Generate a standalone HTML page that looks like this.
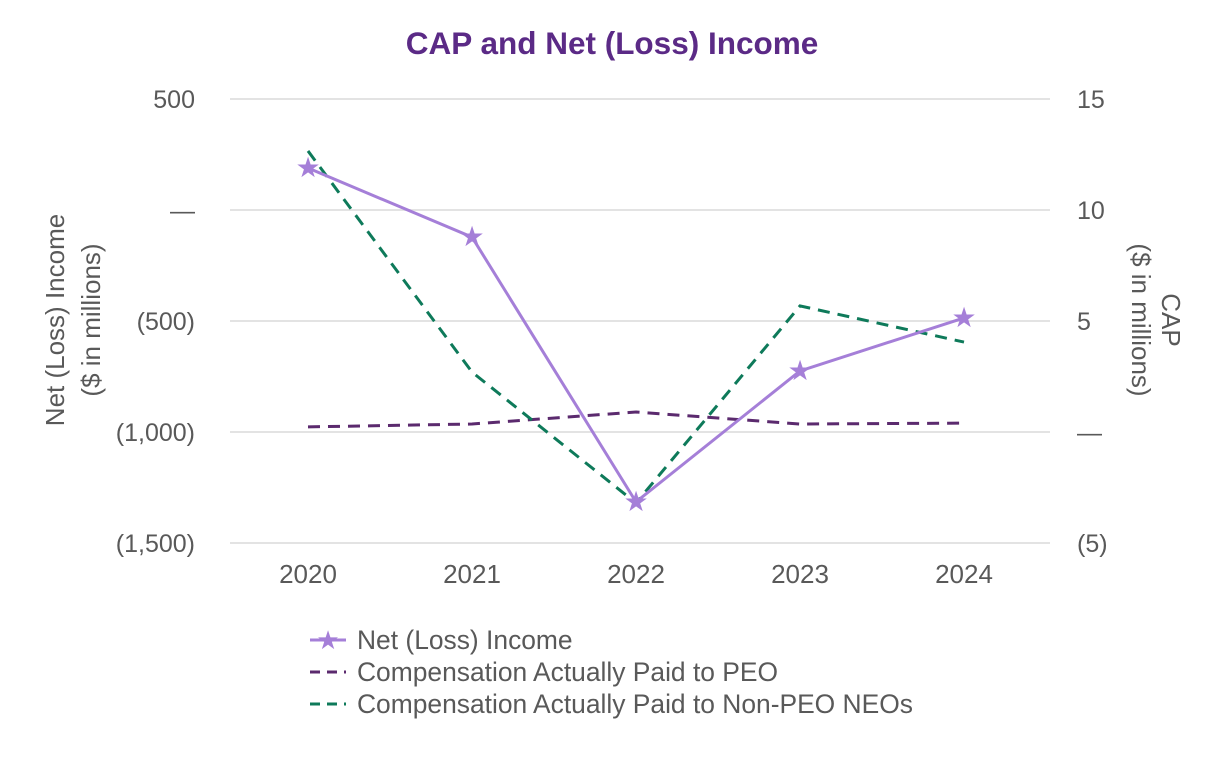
<!DOCTYPE html>
<html><head><meta charset="utf-8"><style>
body{margin:0;background:#fff;}
svg text{font-family:"Liberation Sans",Arial,sans-serif;}
</style></head><body>
<svg id="chart" width="1226" height="760" viewBox="0 0 1226 760">
<text x="612" y="54" text-anchor="middle" font-size="31.5" font-weight="bold" fill="#5b2a86">CAP and Net (Loss) Income</text>
<g id="grid"></g><g id="series"></g>
<text transform="translate(64,320) rotate(-90)" text-anchor="middle" font-size="26" fill="#595959"><tspan x="0" dy="0">Net (Loss) Income</tspan><tspan x="0" dy="36">($ in millions)</tspan></text>
<text transform="translate(1162,320) rotate(90)" text-anchor="middle" font-size="26" fill="#595959"><tspan x="0" dy="0">CAP</tspan><tspan x="0" dy="30">($ in millions)</tspan></text>
<g>
<line x1="310" y1="640" x2="346" y2="640" stroke="#a57fd8" stroke-width="3"/>
<text x="328" y="649" text-anchor="middle" font-size="26" fill="#a57fd8">★</text>
<text x="357" y="649" font-size="26.4" fill="#595959">Net (Loss) Income</text>
<line x1="310" y1="672" x2="346" y2="672" stroke="#5b2a6e" stroke-width="3" stroke-dasharray="10,7"/>
<text x="357" y="681" font-size="26.4" fill="#595959">Compensation Actually Paid to PEO</text>
<line x1="310" y1="704" x2="346" y2="704" stroke="#0e7a5a" stroke-width="3" stroke-dasharray="10,7"/>
<text x="357" y="713" font-size="26.4" fill="#595959">Compensation Actually Paid to Non-PEO NEOs</text>
</g>
</svg>
<script>
const years=["2020","2021","2022","2023","2024"];
const netIncome=[189,-122,-1315,-725,-486];
const capPEO=[0.23,0.36,0.9,0.36,0.4];
const capNEO=[12.66,2.7,-3.2,5.68,4.05];
const leftTicks=[500,0,-500,-1000,-1500];
const leftTickLabels=["500","—","(500)","(1,000)","(1,500)"];
const rightTicks=[15,10,5,0,-5];
const rightTickLabels=["15","10","5","—","(5)"];
const NS="http://www.w3.org/2000/svg";
const xS=i=>308+i*164;
const yL=v=>210-v*111/500;
const yR=v=>432-v*22.2;
function mk(t,a,p){const e=document.createElementNS(NS,t);for(const k in a)e.setAttribute(k,a[k]);p.appendChild(e);return e;}
const grid=document.getElementById('grid'),ser=document.getElementById('series');
leftTicks.forEach((v,i)=>{
 const l=mk('line',{x1:230,x2:1050,y1:yL(v),y2:yL(v),stroke:'#e3e3e3','stroke-width':2},grid);
 
 
 const t=mk('text',{x:195,y:yL(v)+9,'text-anchor':'end','font-size':25,fill:'#595959'},grid);t.textContent=leftTickLabels[i];
 
 
});
rightTicks.forEach((v,i)=>{
 const t=mk('text',{x:1077,y:yR(v)+9,'font-size':25,fill:'#595959'},grid);t.textContent=rightTickLabels[i];
 
 
});
years.forEach((y,i)=>{
 const t=mk('text',{x:xS(i),y:583,'text-anchor':'middle','font-size':26,fill:'#595959'},grid);t.textContent=y;
 
 
});
const pts=(arr,f)=>arr.map((v,i)=>xS(i)+','+f(v)).join(' ');
const p1=mk('polyline',{points:pts(capPEO,yR),fill:'none',stroke:'#5b2a6e','stroke-width':3,'stroke-dasharray':'12,8'},ser);


const p2=mk('polyline',{points:pts(capNEO,yR),fill:'none',stroke:'#0e7a5a','stroke-width':3,'stroke-dasharray':'12,8'},ser);


const p3=mk('polyline',{points:pts(netIncome,yL),fill:'none',stroke:'#a57fd8','stroke-width':3},ser);


netIncome.forEach((v,i)=>{
 const t=mk('text',{x:xS(i),y:yL(v)+9,'text-anchor':'middle','font-size':28,fill:'#a57fd8'},ser);t.textContent='★';
 
 
});
</script>
</body></html>
